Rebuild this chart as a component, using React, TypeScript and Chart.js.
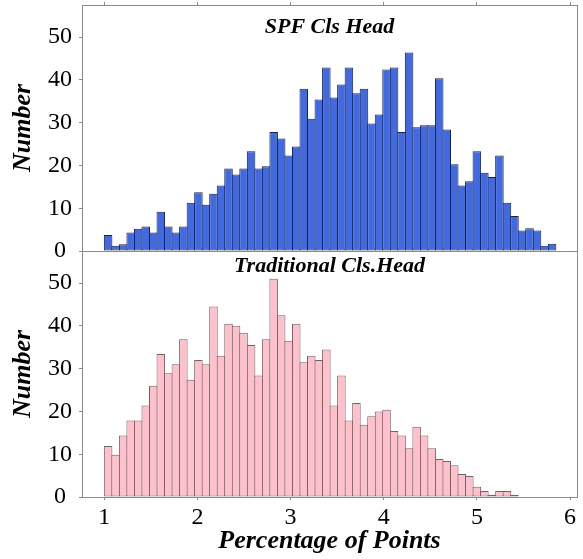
import React, { useEffect, useRef } from "react";
import { Chart, registerables } from "chart.js";

Chart.register(...registerables);

// ---- data ----
const BIN_START = 1.0;
const BIN_WIDTH = 0.0808;

const SPF_COUNTS = [
  3.75, 1.2, 1.6, 4.3, 5.2, 5.7, 4.3, 9.2, 5.7, 4.3,
  5.7, 11.3, 13.75, 10.8, 13.4, 15.3, 19.3, 17.9, 19.3, 23.3,
  19.3, 19.8, 27.8, 26.3, 22.3, 24.4, 37.9, 30.9, 35.4, 42.9,
  35.9, 38.9, 42.9, 36.9, 37.9, 29.8, 31.9, 42.4, 42.9, 27.8,
  46.4, 28.9, 29.4, 29.4, 40.4, 28.4, 20.3, 15.3, 16.3, 23.3,
  18.3, 17.3, 22.3, 11.3, 8.2, 4.8, 5.3, 4.8, 1.2, 1.7,
];

const TRAD_COUNTS = [
  11.9, 9.9, 14.4, 17.9, 17.9, 21.4, 26.0, 33.4, 28.9, 31.0,
  36.9, 27.4, 32.0, 31.0, 44.5, 33.0, 40.5, 40.0, 38.4, 35.5,
  28.4, 36.9, 51.0, 42.5, 36.5, 40.5, 31.5, 33.0, 32.0, 34.5,
  21.4, 28.4, 17.9, 22.0, 16.9, 18.9, 20.0, 20.4, 15.4, 14.4,
  11.4, 16.4, 14.4, 11.4, 8.9, 8.4, 7.4, 5.4, 4.9, 2.4,
  1.4, 0.5, 1.4, 1.4, 0.5,
];

const X_TICKS = [1, 2, 3, 4, 5, 6];
const Y_TICKS = [0, 10, 20, 30, 40, 50];
const X_MIN = 0.76;
const X_MAX = 6.075;
const Y_MAX = 57.5;

const TITLE_TOP = "SPF Cls Head";
const TITLE_BOTTOM = "Traditional Cls.Head";
const Y_LABEL = "Number";
const X_LABEL = "Percentage of Points";

// ---- styles ----
const SERIF = "'Liberation Serif', 'Times New Roman', Times, serif";
const SPINE = "#8a8a8a";

const toPoints = (counts: number[]) =>
  counts.map((v, i) => ({ x: BIN_START + (i + 0.5) * BIN_WIDTH, y: v }));

const clearPadding = (s: any) => {
  s.paddingTop = 0;
  s.paddingBottom = 0;
  s.paddingLeft = 0;
  s.paddingRight = 0;
};

const yScale = (weight: number) => ({
  type: "linear",
  position: "left",
  stack: "panels",
  stackWeight: 1,
  weight,
  min: 0,
  max: Y_MAX,
  offset: false,
  afterBuildTicks: (s: any) => {
    s.ticks = Y_TICKS.map((v) => ({ value: v }));
  },
  afterFit: (s: any) => {
    s.width = 82;
    clearPadding(s);
  },
  grid: {
    offset: false,
    drawOnChartArea: false,
    drawTicks: true,
    tickLength: 3,
    color: SPINE,
    tickColor: SPINE,
    tickWidth: 1,
  },
  border: { display: true, color: SPINE, width: 1 },
  ticks: {
    font: { family: SERIF, size: 24 },
    color: "#000",
    padding: 7,
    crossAlign: "center",
    autoSkip: false,
  },
  title: {
    display: true,
    text: Y_LABEL,
    font: { family: SERIF, size: 26, style: "italic", weight: "bold" },
    color: "#000",
    padding: { top: 8, bottom: 0 },
  },
});

const xScale = (position: string, height: number, showLabels: boolean) => ({
  type: "linear",
  position,
  min: X_MIN,
  max: X_MAX,
  offset: false,
  afterBuildTicks: (s: any) => {
    s.ticks = X_TICKS.map((v) => ({ value: v }));
  },
  afterFit: (s: any) => {
    s.height = height;
    clearPadding(s);
  },
  grid: {
    offset: false,
    drawOnChartArea: false,
    drawTicks: true,
    tickLength: 3,
    color: SPINE,
    tickColor: SPINE,
  },
  border: { display: true, color: SPINE, width: 1 },
  ticks: {
    display: showLabels,
    font: { family: SERIF, size: 24 },
    color: "#000",
    padding: 3,
    maxRotation: 0,
    autoSkip: false,
  },
  title: {
    display: showLabels,
    text: X_LABEL,
    font: { family: SERIF, size: 26, style: "italic", weight: "bold" },
    color: "#000",
    padding: { top: 0, bottom: 2 },
  },
});

const panelDecor = {
  id: "panelDecor",
  afterDatasetsDraw(chart: any) {
    const { ctx, chartArea } = chart;
    const yTop = chart.scales.yTop;
    const yBot = chart.scales.yBot;
    ctx.save();
    ctx.strokeStyle = SPINE;
    ctx.lineWidth = 1;
    ctx.beginPath();
    const rx = Math.round(chartArea.right - 0.5) + 0.5;
    ctx.moveTo(rx, chartArea.top);
    ctx.lineTo(rx, chartArea.bottom);
    const my = Math.round(yTop.bottom - 0.5) + 0.5;
    ctx.moveTo(chartArea.left, my);
    ctx.lineTo(chartArea.right, my);
    ctx.stroke();

    const cx = (chartArea.left + chartArea.right) / 2;
    ctx.fillStyle = "#000";
    ctx.font = `italic bold 22px ${SERIF}`;
    ctx.textAlign = "center";
    ctx.textBaseline = "alphabetic";
    ctx.fillText(TITLE_TOP, cx, yTop.top + 28);
    ctx.fillText(TITLE_BOTTOM, cx, yBot.top + 21);
    ctx.restore();
  },
};

export default function App() {
  const canvasRef = useRef<HTMLCanvasElement | null>(null);

  useEffect(() => {
    if (!canvasRef.current) return;
    const chart = new Chart(canvasRef.current, {
      type: "bar",
      data: {
        datasets: [
          {
            label: TITLE_TOP,
            data: toPoints(SPF_COUNTS),
            xAxisID: "x",
            yAxisID: "yTop",
            backgroundColor: "#4169E1",
            borderColor: "#1c2238",
            borderWidth: 1,
            borderSkipped: false,
            grouped: false,
            barPercentage: 1.133,
            categoryPercentage: 1,
          } as any,
          {
            label: TITLE_BOTTOM,
            data: toPoints(TRAD_COUNTS),
            xAxisID: "x",
            yAxisID: "yBot",
            backgroundColor: "#FFC0CB",
            borderColor: "#6e6466",
            borderWidth: 1,
            borderSkipped: false,
            grouped: false,
            barPercentage: 1.133,
            categoryPercentage: 1,
          } as any,
        ],
      },
      options: {
        animation: false,
        responsive: false,
        maintainAspectRatio: false,
        layout: { padding: { left: 0, right: 6, top: 0, bottom: 0 } },
        plugins: {
          legend: { display: false },
          tooltip: { enabled: false },
          title: { display: false },
        },
        scales: {
          x: xScale("bottom", 62, true),
          xTop: xScale("top", 5, false),
          yTop: yScale(1),
          yBot: yScale(0),
        } as any,
      },
      plugins: [panelDecor],
    });
    return () => chart.destroy();
  }, []);

  return (
    <div style={{ position: "absolute", left: 0, top: 0, width: 583, height: 559, background: "#fff" }}>
      <canvas ref={canvasRef} width={583} height={559} style={{ display: "block" }} />
    </div>
  );
}
